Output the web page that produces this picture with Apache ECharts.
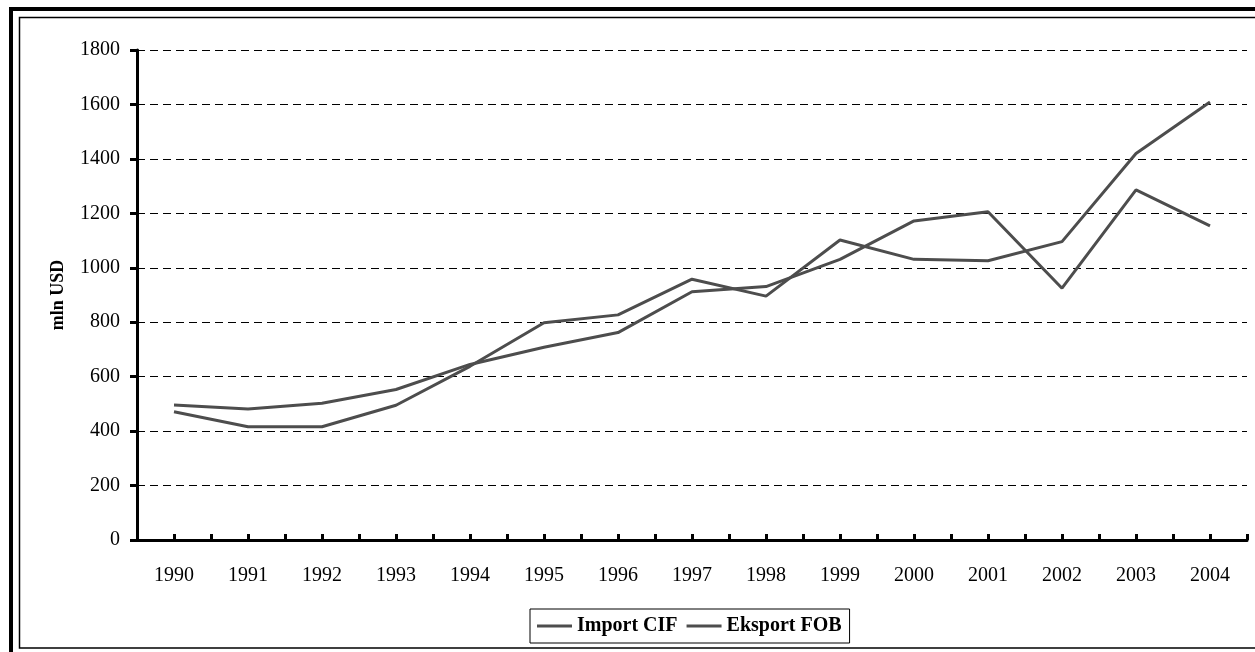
<!DOCTYPE html>
<html>

<head>
    <meta charset="UTF-8" />
    <title>Import CIF / Eksport FOB</title>
    <script src="https://cdn.jsdelivr.net/npm/echarts@6/dist/echarts.min.js"></script>
    <style>
        html, body { margin: 0; padding: 0; background: #fff; }
        #chart { width: 1255px; height: 652px; }
    </style>
</head>

<body>
    <div id="chart"></div>

    <script type="text/javascript">
        var years = [1990, 1991, 1992, 1993, 1994, 1995, 1996, 1997, 1998, 1999, 2000, 2001, 2002, 2003, 2004];
        var importCIF = [471, 416, 416, 495, 638, 798, 827, 958, 896, 1102, 1031, 1026, 1096, 1420, 1609];
        var eksportFOB = [496, 481, 502, 553, 645, 708, 762, 912, 931, 1031, 1172, 1206, 925, 1286, 1154];
        var yTicks = [0, 200, 400, 600, 800, 1000, 1200, 1400, 1600, 1800];

        var font = 'Liberation Serif';
        var lineColor = '#4d4d4d';

        // pairs for value x axis (so ticks land on years and halfway between)
        var toPairs = (vals) => vals.map((v, i) => [years[i], v]);

        var chart = echarts.init(document.getElementById('chart'));

        var option = {
            animation: false,
            backgroundColor: '#fff',
            graphic: [
                {
                    type: 'rect',
                    shape: { x: 11, y: 9, width: 1300, height: 700 },
                    style: { fill: 'none', stroke: '#000', lineWidth: 4 }
                },
                {
                    type: 'rect',
                    shape: { x: 19.5, y: 17.5, width: 1300, height: 630.5 },
                    style: { fill: 'none', stroke: '#000', lineWidth: 1.5 }
                }
            ],
            grid: { left: 137, right: 8, top: 50, bottom: 112 },
            legend: {
                bottom: 9,
                left: 530,
                padding: [7, 8, 7, 7],
                itemGap: 9,
                itemWidth: 35,
                itemHeight: 3,
                icon: 'rect',
                borderColor: '#000',
                borderWidth: 1,
                textStyle: { fontFamily: font, fontSize: 20, fontWeight: 'bold', color: '#000' },
                data: ['Import CIF', 'Eksport FOB']
            },
            xAxis: {
                type: 'value',
                min: 1989.5,
                max: 2004.5,
                interval: 0.5,
                splitLine: { show: false },
                axisLine: { lineStyle: { color: '#000', width: 3 } },
                axisTick: { inside: true, length: 6, lineStyle: { color: '#000', width: 3 } },
                axisLabel: {
                    margin: 26,
                    fontFamily: font,
                    fontSize: 20,
                    color: '#000',
                    formatter: function (v) {
                        return years.indexOf(v) >= 0 ? String(v) : '';
                    }
                }
            },
            yAxis: {
                type: 'value',
                min: yTicks[0],
                max: yTicks[yTicks.length - 1],
                interval: 200,
                name: 'mln USD',
                nameLocation: 'middle',
                nameGap: 70,
                nameTextStyle: { fontFamily: font, fontSize: 18, fontWeight: 'bold', color: '#000' },
                axisLine: { show: true, lineStyle: { color: '#000', width: 3 } },
                axisTick: { show: true, length: 7, lineStyle: { color: '#000', width: 3 } },
                axisLabel: {
                    margin: 17,
                    fontFamily: font,
                    fontSize: 20,
                    color: '#000',
                    formatter: function (v) { return String(v); }
                },
                splitLine: { lineStyle: { color: '#000', width: 1, type: [8, 5] } }
            },
            series: [
                {
                    name: 'Import CIF',
                    type: 'line',
                    data: toPairs(importCIF),
                    symbol: 'none',
                    color: lineColor,
                    lineStyle: { color: lineColor, width: 3 }
                },
                {
                    name: 'Eksport FOB',
                    type: 'line',
                    data: toPairs(eksportFOB),
                    symbol: 'none',
                    color: lineColor,
                    lineStyle: { color: lineColor, width: 3 }
                }
            ]
        };
        chart.setOption(option);
    </script>
</body>

</html>
